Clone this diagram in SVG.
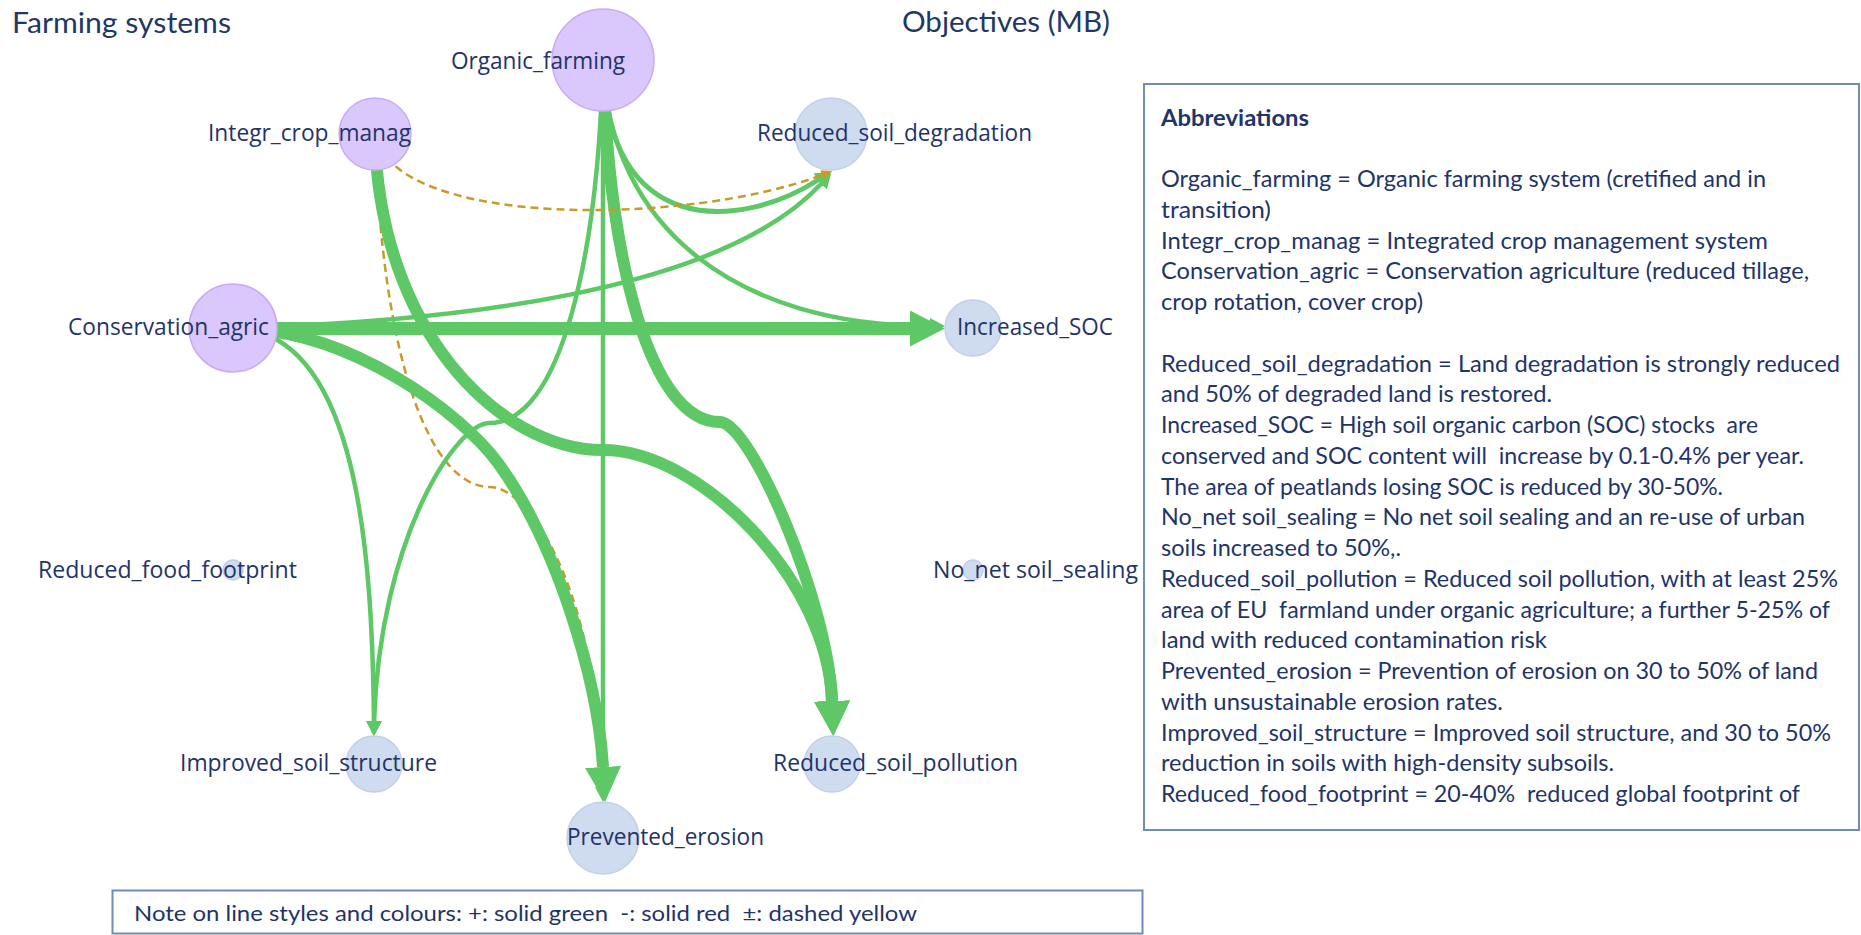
<svg xmlns="http://www.w3.org/2000/svg" width="1861" height="935" viewBox="0 0 1861 935">
  <style>
    .edge { fill: none; stroke: #5dc865; stroke-linecap: butt; }
    .thin { stroke-width: 4.5; }
    .mid { stroke-width: 5; }
    .thick { stroke-width: 12; }
    .dash { fill: none; stroke: #c99a28; stroke-width: 2.5; stroke-dasharray: 8 5; }
    .sys { fill: #dac7fb; stroke: #c9abf4; stroke-width: 1.5; }
    .obj { fill: #cfdbee; stroke: #c2d0e8; stroke-width: 1.5; }
    .lbl { font-family: "Open Sans", "Liberation Sans", sans-serif; font-size: 22.8px; fill: #1f3468; }
    .title { font-family: Lato, "Liberation Sans", sans-serif; font-size: 28px; fill: #1f3864; }
    .box { fill: #ffffff; stroke: #6f8db5; stroke-width: 2; }
    .bt { font-family: Lato, "Liberation Sans", sans-serif; font-size: 23.5px; fill: #1f3468; }
    .bold { font-weight: bold; }
  </style>
  <defs>
    <marker id="arrBig" viewBox="0 0 35 36" refX="0" refY="18" markerWidth="35" markerHeight="36" markerUnits="userSpaceOnUse" orient="auto">
      <path d="M0,0 L35,18 L0,36 Z" fill="#5dc865"/>
    </marker>
    <marker id="arrSmall" viewBox="0 0 15 16" refX="0" refY="8" markerWidth="15" markerHeight="16" markerUnits="userSpaceOnUse" orient="auto">
      <path d="M0,0 L15,8 L0,16 Z" fill="#5dc865"/>
    </marker>
    <marker id="arrGold" viewBox="0 0 11 10" refX="0" refY="5" markerWidth="11" markerHeight="10" markerUnits="userSpaceOnUse" orient="auto">
      <path d="M0,0 L11,5 L0,10 Z" fill="#c99a28"/>
    </marker>
  </defs>

  <rect x="0" y="0" width="1861" height="935" fill="#ffffff"/>

  <g id="titles">
    <text class="title" x="12" y="33" textLength="219" lengthAdjust="spacingAndGlyphs">Farming systems</text>
    <text class="title" x="902" y="32" textLength="208" lengthAdjust="spacingAndGlyphs">Objectives (MB)</text>
  </g>

  <g id="connectors">
    <!-- Integr_crop_manag -> Prevented_erosion (dashed, runs along the thick edge) -->
    <path id="e-icm-pe" class="dash" d="M375,134 C382,360 430,487 490,487 C525,487 578,565 595,700"/>
    <!-- Organic_farming -> Prevented_erosion -->
    <path id="e-of-pe" class="edge thin" d="M603,60 L603,787" marker-end="url(#arrSmall)"/>
    <!-- Organic_farming -> Increased_SOC -->
    <path id="e-of-soc" class="edge thin" d="M603,60 C608,230 740,326 930,326" marker-end="url(#arrSmall)"/>
    <!-- Organic_farming -> Reduced_soil_degradation -->
    <path id="e-of-rsd" class="edge mid" d="M603,60 C605,240 740,230 818,180" marker-end="url(#arrSmall)"/>
    <!-- Conservation_agric -> Reduced_soil_degradation -->
    <path id="e-ca-rsd" class="edge thin" d="M233,328 C450,322 719,293 821,184" marker-end="url(#arrSmall)"/>
    <!-- Conservation_agric -> Improved_soil_structure -->
    <path id="e-ca-iss" class="edge thin" d="M233,328 C360,330 372,560 374,721" marker-end="url(#arrSmall)"/>
    <!-- Organic_farming -> Improved_soil_structure -->
    <path id="e-of-iss" class="edge thin" d="M603,60 C598,260 560,423 490,423 C455,423 380,540 374,721" marker-end="url(#arrSmall)"/>
    <!-- Integr_crop_manag -> Reduced_soil_pollution -->
    <path id="e-icm-rsp" class="edge thick" d="M375,134 C378,330 500,450 603,450 C700,450 828,580 832,701" marker-end="url(#arrBig)"/>
    <!-- Organic_farming -> Reduced_soil_pollution -->
    <path id="e-of-rsp" class="edge thick" d="M603,60 C608,260 650,422 720,422 C750,422 828,600 832,701" marker-end="url(#arrBig)"/>
    <!-- Conservation_agric -> Prevented_erosion -->
    <path id="e-ca-pe" class="edge thick" d="M233,328 C350,328 462,414 498,463 C557,544 598,680 603,767" marker-end="url(#arrBig)"/>
    <!-- Conservation_agric -> Increased_SOC -->
    <path id="e-ca-soc" class="edge" style="stroke-width:13" d="M233,328.5 L910,328.5" marker-end="url(#arrBig)"/>
    <!-- Integr_crop_manag -> Reduced_soil_degradation (dashed) -->
    <path id="e-icm-rsd" class="dash" d="M375,134 C395,230 690,225 822,175" marker-end="url(#arrGold)"/>
  </g>

  <g id="node-organic-farming">
    <circle class="sys" cx="603" cy="60" r="51"/>
    <text class="lbl" x="451" y="69" textLength="174" lengthAdjust="spacingAndGlyphs">Organic_farming</text>
  </g>
  <g id="node-integr-crop-manag">
    <circle class="sys" cx="375" cy="134" r="36"/>
    <text class="lbl" x="208" y="141" textLength="203" lengthAdjust="spacingAndGlyphs">Integr_crop_manag</text>
  </g>
  <g id="node-conservation-agric">
    <circle class="sys" cx="233" cy="328" r="44"/>
    <text class="lbl" x="68" y="335" textLength="201" lengthAdjust="spacingAndGlyphs">Conservation_agric</text>
  </g>
  <g id="node-reduced-soil-degradation">
    <circle class="obj" cx="831" cy="134" r="36"/>
    <text class="lbl" x="757" y="141" textLength="275" lengthAdjust="spacingAndGlyphs">Reduced_soil_degradation</text>
  </g>
  <g id="node-increased-soc">
    <circle class="obj" cx="973" cy="328" r="28"/>
    <text class="lbl" x="957" y="335" textLength="156" lengthAdjust="spacingAndGlyphs">Increased_SOC</text>
  </g>
  <g id="node-no-net-soil-sealing">
    <circle class="obj" cx="973" cy="570" r="10"/>
    <text class="lbl" x="933" y="578" textLength="205" lengthAdjust="spacingAndGlyphs">No_net soil_sealing</text>
  </g>
  <g id="node-reduced-soil-pollution">
    <circle class="obj" cx="832" cy="764" r="28"/>
    <text class="lbl" x="773" y="771" textLength="245" lengthAdjust="spacingAndGlyphs">Reduced_soil_pollution</text>
  </g>
  <g id="node-prevented-erosion">
    <circle class="obj" cx="603" cy="838" r="36"/>
    <text class="lbl" x="567" y="845" textLength="197" lengthAdjust="spacingAndGlyphs">Prevented_erosion</text>
  </g>
  <g id="node-improved-soil-structure">
    <circle class="obj" cx="374" cy="764" r="28"/>
    <text class="lbl" x="180" y="771" textLength="257" lengthAdjust="spacingAndGlyphs">Improved_soil_structure</text>
  </g>
  <g id="node-reduced-food-footprint">
    <circle class="obj" cx="233" cy="570" r="10"/>
    <text class="lbl" x="38" y="578" textLength="259" lengthAdjust="spacingAndGlyphs">Reduced_food_footprint</text>
  </g>

  <g id="abbreviations">
    <rect class="box" x="1144" y="84" width="715" height="746"/>
    <text class="bt bold" x="1161" y="126" textLength="148" lengthAdjust="spacingAndGlyphs">Abbreviations</text>
    <text class="bt" x="1161" y="187" textLength="605" lengthAdjust="spacingAndGlyphs">Organic_farming = Organic farming system (cretified and in</text>
    <text class="bt" x="1161" y="217.75" textLength="110" lengthAdjust="spacingAndGlyphs">transition)</text>
    <text class="bt" x="1161" y="248.5" textLength="607" lengthAdjust="spacingAndGlyphs">Integr_crop_manag = Integrated crop management system</text>
    <text class="bt" x="1161" y="279.25" textLength="648" lengthAdjust="spacingAndGlyphs">Conservation_agric = Conservation agriculture (reduced tillage,</text>
    <text class="bt" x="1161" y="310" textLength="262" lengthAdjust="spacingAndGlyphs">crop rotation, cover crop)</text>
    <text class="bt" x="1161" y="371.5" textLength="679" lengthAdjust="spacingAndGlyphs">Reduced_soil_degradation = Land degradation is strongly reduced</text>
    <text class="bt" x="1161" y="402.25" textLength="391" lengthAdjust="spacingAndGlyphs">and 50% of degraded land is restored.</text>
    <text class="bt" x="1161" y="433" textLength="597" lengthAdjust="spacingAndGlyphs" xml:space="preserve">Increased_SOC = High soil organic carbon (SOC) stocks  are</text>
    <text class="bt" x="1161" y="463.75" textLength="643" lengthAdjust="spacingAndGlyphs" xml:space="preserve">conserved and SOC content will  increase by 0.1-0.4% per year.</text>
    <text class="bt" x="1161" y="494.5" textLength="562" lengthAdjust="spacingAndGlyphs">The area of peatlands losing SOC is reduced by 30-50%.</text>
    <text class="bt" x="1161" y="525.25" textLength="644" lengthAdjust="spacingAndGlyphs">No_net soil_sealing = No net soil sealing and an re-use of urban</text>
    <text class="bt" x="1161" y="556" textLength="240" lengthAdjust="spacingAndGlyphs">soils increased to 50%,.</text>
    <text class="bt" x="1161" y="586.75" textLength="677" lengthAdjust="spacingAndGlyphs">Reduced_soil_pollution = Reduced soil pollution, with at least 25%</text>
    <text class="bt" x="1161" y="617.5" textLength="669" lengthAdjust="spacingAndGlyphs" xml:space="preserve">area of EU  farmland under organic agriculture; a further 5-25% of</text>
    <text class="bt" x="1161" y="648.25" textLength="386" lengthAdjust="spacingAndGlyphs">land with reduced contamination risk</text>
    <text class="bt" x="1161" y="679" textLength="657" lengthAdjust="spacingAndGlyphs">Prevented_erosion = Prevention of erosion on 30 to 50% of land</text>
    <text class="bt" x="1161" y="709.75" textLength="342" lengthAdjust="spacingAndGlyphs">with unsustainable erosion rates.</text>
    <text class="bt" x="1161" y="740.5" textLength="670" lengthAdjust="spacingAndGlyphs">Improved_soil_structure = Improved soil structure, and 30 to 50%</text>
    <text class="bt" x="1161" y="771.25" textLength="453" lengthAdjust="spacingAndGlyphs">reduction in soils with high-density subsoils.</text>
    <text class="bt" x="1161" y="802" textLength="639" lengthAdjust="spacingAndGlyphs" xml:space="preserve">Reduced_food_footprint = 20-40%  reduced global footprint of</text>
  </g>

  <g id="note">
    <rect class="box" x="112.5" y="890.5" width="1030" height="43"/>
    <text class="bt" style="font-size:21.5px" x="134" y="921" textLength="783" lengthAdjust="spacingAndGlyphs" xml:space="preserve">Note on line styles and colours: +: solid green  -: solid red  ±: dashed yellow</text>
  </g>
</svg>
